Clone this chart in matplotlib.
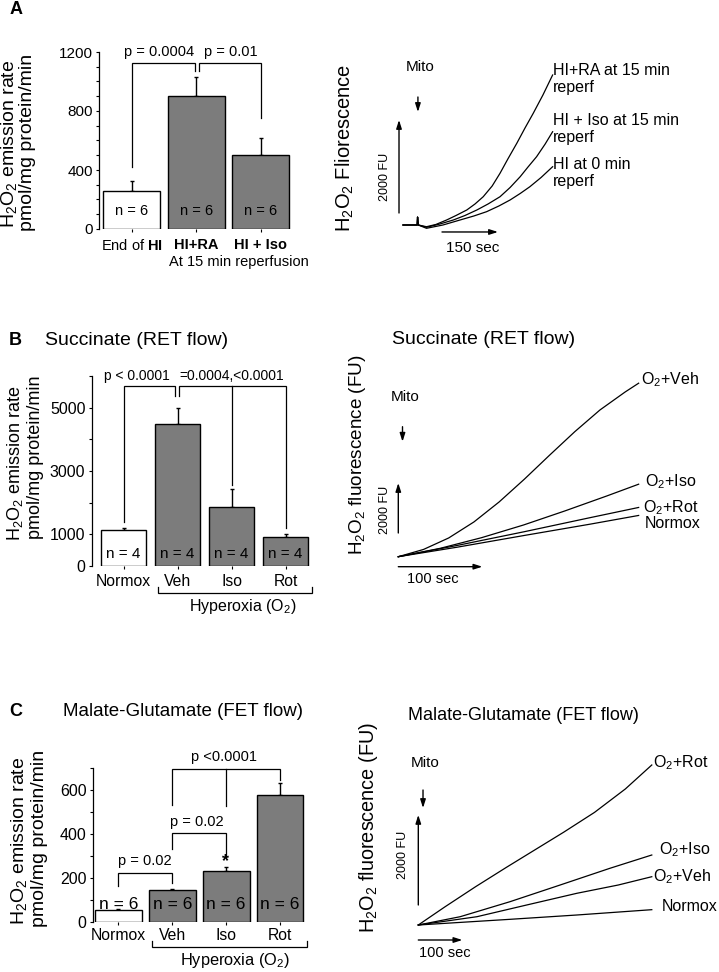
"""
H2O2 emission: bar summaries and fluorescence traces (panels A-C)
"""

#---------------------------------------------------------------------------------------------------
# Import Modules
#---------------------------------------------------------------------------------------------------

import matplotlib
matplotlib.use('Agg')
import matplotlib.pyplot as plt


#---------------------------------------------------------------------------------------------------
# Input Parameters
#---------------------------------------------------------------------------------------------------

plt.rcParams['font.family'] = 'Liberation Sans'
plt.rcParams['mathtext.fontset'] = 'custom'
plt.rcParams['mathtext.rm'] = 'Liberation Sans'
plt.rcParams['mathtext.it'] = 'Liberation Sans:italic'
plt.rcParams['mathtext.bf'] = 'Liberation Sans:bold'

W, H = 719, 972   # pixels, dpi = 100
H2O2 = r'H$_2$O$_2$'

# Panel A bars (pmol/mg protein/min)
a_groups = [r'End of $\mathbf{HI}$', 'HI+RA', 'HI + Iso']
a_mean = [258, 905, 503]
a_sem = [67, 125, 117]
a_n = [6, 6, 6]

# Panel B bars (succinate)
b_groups = ['Normox', 'Veh', 'Iso', 'Rot']
b_mean = [1150, 4480, 1870, 910]
b_sem = [50, 510, 550, 110]
b_n = [4, 4, 4, 4]

# Panel C bars (malate-glutamate)
c_groups = ['Normox', 'Veh', 'Iso', 'Rot']
c_mean = [53, 143, 232, 574]
c_sem = [3, 6, 18, 58]
c_n = [6, 6, 6, 6]

# Panel A traces (sec, FU)
a_t_ra = [0, 38, 39, 41, 63, 88, 117, 142, 171, 193, 215, 239, 260, 281, 305, 327, 349, 375, 401]
a_f_ra = [0, 0, 170, 0, -37, 11, 108, 204, 323, 452, 608, 839, 1112, 1419, 1757, 2086, 2401, 2795, 3225]
a_t_iso = [0, 38, 39, 41, 63, 99, 135, 166, 198, 228, 260, 287, 314, 335, 358, 381, 401]
a_f_iso = [0, 0, 170, 0, -49, 22, 108, 204, 323, 452, 608, 806, 1038, 1247, 1468, 1741, 2006]
a_t_hi = [0, 38, 39, 41, 63, 107, 153, 190, 224, 257, 287, 314, 340, 370, 401]
a_f_hi = [0, 0, 170, 0, -71, 0, 108, 194, 286, 409, 538, 677, 823, 1021, 1253]

# Panel B traces (sec, FU)
b_t_veh = [0, 30, 60, 90, 120, 150, 180, 210, 240, 270, 286]
b_f_veh = [0, 290, 750, 1390, 2190, 3100, 4060, 5000, 5870, 6590, 6940]
b_t_iso = [0, 50, 99, 149, 198, 248, 286]
b_f_iso = [0, 336, 760, 1268, 1828, 2428, 2900]
b_t_rot = [0, 70, 150, 228, 286]
b_f_rot = [0, 450, 1000, 1560, 1970]
b_t_nor = [0, 70, 150, 228, 286]
b_f_nor = [0, 380, 850, 1300, 1650]

# Panel C traces (sec, FU)
c_t_rot = [0, 60, 130, 200, 270, 330, 400, 470, 530]
c_f_rot = [0, 400, 850, 1280, 1700, 2060, 2500, 3020, 3552]
c_t_iso = [0, 95, 208, 322, 435, 530]
c_f_iso = [0, 184, 517, 888, 1259, 1554]
c_t_veh = [0, 133, 246, 360, 454, 530]
c_f_veh = [0, 184, 444, 704, 888, 1072]
c_t_nor = [0, 208, 360, 530]
c_f_nor = [0, 126, 222, 340]

out_fname = 'out.png'


#---------------------------------------------------------------------------------------------------
# Helpers
#---------------------------------------------------------------------------------------------------

fig = plt.figure(figsize=(W/100, H/100), dpi=100)


def px_axes(l, t, r, b):
    return fig.add_axes([l/W, 1 - b/H, (r - l)/W, (b - t)/H])


def ftext(x, y, s, **kw):
    kw.setdefault('ha', 'center')
    kw.setdefault('va', 'center')
    fig.text(x/W, 1 - y/H, s, **kw)


def line(ax, xs, ys):
    ax.plot(xs, ys, color='k', lw=0.9, clip_on=False, solid_joinstyle='miter')


def arrow(ax, p0, p1):
    ax.annotate('', xy=p1, xytext=p0, annotation_clip=False,
                arrowprops=dict(arrowstyle='-|>,head_length=0.5,head_width=0.16',
                                color='k', lw=1, shrinkA=0, shrinkB=0))


def trace(ax, t, f):
    ax.plot(t, f, color='k', lw=0.9, solid_joinstyle='round')


def bar_panel(box, xlim, ylim, groups, mean, sem, n, fills, width, n_y, fs_n):
    ax = px_axes(*box)
    x = list(range(len(groups)))
    ax.bar(x, mean, width, color=fills, edgecolor='k', linewidth=1, zorder=2)
    ax.errorbar(x, mean, yerr=[[0]*len(x), sem], fmt='none', ecolor='k',
                elinewidth=1, capsize=1.5, capthick=1, zorder=1)
    for xi, ni in zip(x, n):
        ax.text(xi, n_y, f'n = {ni}', ha='center', va='center', fontsize=fs_n, zorder=3)
    ax.set_xlim(xlim)
    ax.set_ylim(ylim)
    for s in ['top', 'right', 'bottom']:
        ax.spines[s].set_visible(False)
    ax.spines['left'].set_linewidth(0.9)
    ax.patch.set_visible(False)
    ax.set_xticks(x)
    ax.set_xticklabels(groups)
    ax.tick_params(axis='x', length=2.5, width=0.8)
    ax.tick_params(axis='y', which='both', length=2.5, width=0.8, pad=2)
    return ax


def trace_panel(box, origin, sec_px, fu_px):
    l, t, r, b = box
    x0, y0 = origin
    ax = px_axes(l, t, r, b)
    ax.set_xlim((l - x0)*sec_px, (r - x0)*sec_px)
    ax.set_ylim((y0 - b)*fu_px, (y0 - t)*fu_px)
    ax.axis('off')
    return ax


#---------------------------------------------------------------------------------------------------
# Panel A
#---------------------------------------------------------------------------------------------------

ax = bar_panel((99, 52, 293, 229), (-0.504, 2.5), (0, 1200), a_groups, a_mean, a_sem, a_n,
               ['white', '#7c7c7c', '#7c7c7c'], 0.88, 122, 10.5)
ax.set_yticks([0, 400, 800, 1200])
ax.set_yticks(range(0, 1201, 100), minor=True)
ax.tick_params(axis='y', labelsize=11)
ax.tick_params(axis='x', labelsize=10.5, pad=4)
for lbl in ax.get_xticklabels()[1:]:
    lbl.set_fontweight('bold')
line(ax, [0, 0, 0.985, 0.985], [422, 1128, 1128, 1074])
line(ax, [1.05, 1.05, 2, 2], [1074, 1128, 1128, 750])
ax.text(0.42, 1200, 'p = 0.0004', ha='center', va='center', fontsize=10.5)
ax.text(1.54, 1200, 'p = 0.01', ha='center', va='center', fontsize=10.5)

ftext(16.5, 10, 'A', fontsize=13, fontweight='bold')
ftext(238.7, 261.7, 'At 15 min reperfusion', fontsize=10.5)
ftext(9.5, 144, H2O2 + ' emission rate', fontsize=14, rotation=90)
ftext(28, 142, 'pmol/mg protein/min', fontsize=14, rotation=90)

ax = trace_panel((370, 55, 570, 260), (403, 225), 2.68, 21.5)
trace(ax, a_t_ra, a_f_ra)
trace(ax, a_t_iso, a_f_iso)
trace(ax, a_t_hi, a_f_hi)
arrow(ax, (-10.7, 258), (-10.7, 2258))
arrow(ax, (104.5, -150), (254.5, -150))
arrow(ax, (40, 2752), (40, 2430))

ftext(345, 148, H2O2 + ' Fliorescence', fontsize=14.5, rotation=90)
ftext(420, 67, 'Mito', fontsize=11)
ftext(385, 177, '2000 FU', fontsize=9, rotation=90)
ftext(473, 248, '150 sec', fontsize=11)
ftext(553, 79, 'HI+RA at 15 min\nreperf', ha='left', fontsize=11.5, linespacing=1.1)
ftext(553, 129, 'HI + Iso at 15 min\nreperf', ha='left', fontsize=11.5, linespacing=1.1)
ftext(553, 173, 'HI at 0 min\nreperf', ha='left', fontsize=11.5, linespacing=1.1)


#---------------------------------------------------------------------------------------------------
# Panel B
#---------------------------------------------------------------------------------------------------

ax = bar_panel((91.7, 376, 312.5, 566), (-0.589, 3.5), (0, 6000), b_groups, b_mean, b_sem, b_n,
               ['white', '#7c7c7c', '#7c7c7c', '#7c7c7c'], 0.85, 379, 11)
ax.set_yticks(range(0, 6001, 1000))
ax.set_yticklabels(['0', '1000', '', '3000', '', '5000', ''])
ax.tick_params(axis='y', labelsize=11.5)
ax.tick_params(axis='x', labelsize=11.3, pad=3.6)
line(ax, [0, 0, 0.96, 0.96], [1400, 5680, 5680, 5360])
line(ax, [1.03, 1.03, 3, 3], [5360, 5680, 5680, 1200])
line(ax, [2, 2], [5680, 2555])
line(ax, [0.64, 0.64, 3.49, 3.49], [-662, -852, -852, -662])
ax.text(0.25, 6000, 'p < 0.0001', ha='center', va='center', fontsize=10)
ax.text(2.01, 6000, '=0.0004,<0.0001', ha='center', va='center', fontsize=10)

ftext(15, 340, 'B', fontsize=13, fontweight='bold')
ftext(45, 340, 'Succinate (RET flow)', ha='left', fontsize=14)
ftext(243, 607, 'Hyperoxia (O$_2$)', fontsize=11.5)
ftext(15, 463, H2O2 + ' emission rate', fontsize=13, rotation=90)
ftext(36, 457, 'pmol/mg protein/min', fontsize=13, rotation=90)

ax = trace_panel((375, 360, 660, 600), (398.3, 556.7), 1.19, 40)
trace(ax, b_t_veh, b_f_veh)
trace(ax, b_t_iso, b_f_iso)
trace(ax, b_t_rot, b_f_rot)
trace(ax, b_t_nor, b_f_nor)
arrow(ax, (0, 948), (0, 2948))
arrow(ax, (0, -400), (100, -400))
arrow(ax, (5, 5200), (5, 4600))

ftext(392, 339, 'Succinate (RET flow)', ha='left', fontsize=14)
ftext(358, 455, H2O2 + ' fluorescence (FU)', fontsize=13.6, rotation=90)
ftext(405, 397, 'Mito', fontsize=11)
ftext(385, 510, '2000 FU', fontsize=9, rotation=90)
ftext(433, 579, '100 sec', fontsize=10.5)
ftext(641, 380, 'O$_2$+Veh', ha='left', fontsize=11.5)
ftext(645, 482, 'O$_2$+Iso', ha='left', fontsize=11.5)
ftext(643, 508, 'O$_2$+Rot', ha='left', fontsize=11.5)
ftext(645, 524, 'Normox', ha='left', fontsize=11.5)


#---------------------------------------------------------------------------------------------------
# Panel C
#---------------------------------------------------------------------------------------------------

ax = bar_panel((92.7, 767.7, 307, 921.7), (-0.475, 3.5), (0, 700), c_groups, c_mean, c_sem, c_n,
               ['white', '#7c7c7c', '#7c7c7c', '#7c7c7c'], 0.87, 78, 12.5)
ax.set_yticks([0, 200, 400, 600])
ax.set_yticks(range(0, 701, 100), minor=True)
ax.tick_params(axis='y', labelsize=11.5)
ax.tick_params(axis='x', labelsize=11.3, pad=2)
line(ax, [0, 0, 1, 1], [162, 223, 223, 174])
line(ax, [1, 1, 2, 2], [330, 405, 405, 295])
line(ax, [1, 1, 3, 3], [530, 693, 693, 644])
line(ax, [2, 2], [693, 524])
line(ax, [0.62, 0.62, 3.5, 3.5], [-86, -115, -115, -86])
ax.text(0.5, 276, 'p = 0.02', ha='center', va='center', fontsize=10.5)
ax.text(1.45, 455, 'p = 0.02', ha='center', va='center', fontsize=10.5)
ax.text(1.96, 750, 'p <0.0001', ha='center', va='center', fontsize=10.5)
ax.text(1.98, 272, '*', ha='center', va='center', fontsize=13, fontweight='bold')

ftext(16, 712, 'C', fontsize=13, fontweight='bold')
ftext(63, 712, 'Malate-Glutamate (FET flow)', ha='left', fontsize=13.5)
ftext(235, 960, 'Hyperoxia (O$_2$)', fontsize=11.8)
ftext(19, 841, H2O2 + ' emission rate', fontsize=14, rotation=90)
ftext(39.5, 838, 'pmol/mg protein/min', fontsize=14, rotation=90)

ax = trace_panel((380, 740, 665, 965), (418.3, 925), 2.27, 22.2)
trace(ax, c_t_rot, c_f_rot)
trace(ax, c_t_iso, c_f_iso)
trace(ax, c_t_veh, c_f_veh)
trace(ax, c_t_nor, c_f_nor)
arrow(ax, (0, 444), (0, 2444))
arrow(ax, (0, -333), (100, -333))
arrow(ax, (10.7, 2997), (10.7, 2597))

ftext(408, 715, 'Malate-Glutamate (FET flow)', ha='left', fontsize=13)
ftext(369, 827, H2O2 + ' fluorescence (FU)', fontsize=14.3, rotation=90)
ftext(425, 763, 'Mito', fontsize=11)
ftext(403, 855, '2000 FU', fontsize=9, rotation=90)
ftext(445, 953, '100 sec', fontsize=10.5)
ftext(653, 763, 'O$_2$+Rot', ha='left', fontsize=11.5)
ftext(659, 850, 'O$_2$+Iso', ha='left', fontsize=11.5)
ftext(653, 877, 'O$_2$+Veh', ha='left', fontsize=11.5)
ftext(662, 906, 'Normox', ha='left', fontsize=11.5)

plt.savefig(out_fname, dpi=100)
